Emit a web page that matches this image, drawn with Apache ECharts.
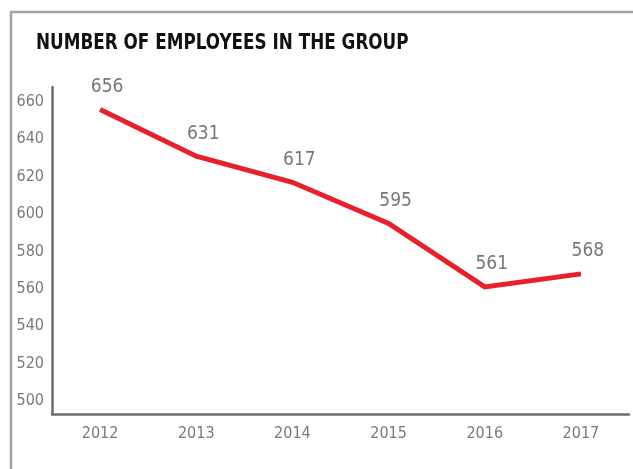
<!DOCTYPE html>
<html>
<head>
<meta charset="utf-8">
<script src="https://cdn.jsdelivr.net/npm/echarts@6/dist/echarts.min.js"></script>
<style>
  html, body { margin: 0; padding: 0; background: #fff; }
  #chart { width: 633px; height: 469px; }
</style>
</head>
<body>
<div id="chart"></div>
<script>
// Headcount per year
const years = ['2012', '2013', '2014', '2015', '2016', '2017'];
const employees = [656, 631, 617, 595, 561, 568];
const yTickValues = [500, 520, 540, 560, 580, 600, 620, 640, 660];
const titleText = 'NUMBER OF EMPLOYEES IN THE GROUP';

const condensed = '"Liberation Sans Narrow", "DejaVu Sans Condensed", "Roboto", sans-serif';

const chart = echarts.init(document.getElementById('chart'), null, { renderer: 'canvas' });

chart.setOption({
  backgroundColor: '#fff',
  animation: false,
  graphic: [
    {
      // frame running along the top and left edges
      type: 'polyline',
      shape: { points: [[11, 469], [11, 12], [633, 12]] },
      style: { stroke: '#a3a3a3', lineWidth: 2.5, fill: null }
    },
    {
      // heading, squeezed horizontally to a condensed look
      type: 'text',
      x: 36,
      y: 33,
      scaleX: 0.89,
      style: {
        text: titleText,
        font: 'bold 21px ' + condensed,
        fill: '#111',
        textVerticalAlign: 'top'
      }
    }
  ],
  grid: { left: 52, right: 4, top: 87, bottom: 55, containLabel: false },
  xAxis: {
    type: 'category',
    data: years,
    boundaryGap: true,
    axisLine: { show: true, lineStyle: { color: '#6e6e73', width: 2.5 } },
    axisTick: { show: false },
    axisLabel: {
      color: '#7a7a7a',
      fontFamily: condensed,
      fontSize: 16,
      margin: 12
    },
    splitLine: { show: false }
  },
  yAxis: {
    type: 'value',
    min: 493,
    max: 668,
    axisLine: { show: true, lineStyle: { color: '#6e6e73', width: 2.5 } },
    axisTick: { show: false },
    splitLine: { show: false },
    axisLabel: {
      customValues: yTickValues,
      color: '#7a7a7a',
      fontFamily: condensed,
      fontSize: 16,
      margin: 8
    }
  },
  series: [
    {
      type: 'line',
      data: employees,
      symbol: 'circle',
      symbolSize: 2,
      showSymbol: true,
      itemStyle: { color: 'rgba(232,32,42,0)', borderWidth: 0 },
      lineStyle: { color: '#e8202a', width: 5, join: 'miter' },
      label: {
        show: true,
        position: 'top',
        distance: 12,
        offset: [7, 0],
        color: '#777',
        fontFamily: condensed,
        fontSize: 19
      }
    }
  ]
});
</script>
</body>
</html>
